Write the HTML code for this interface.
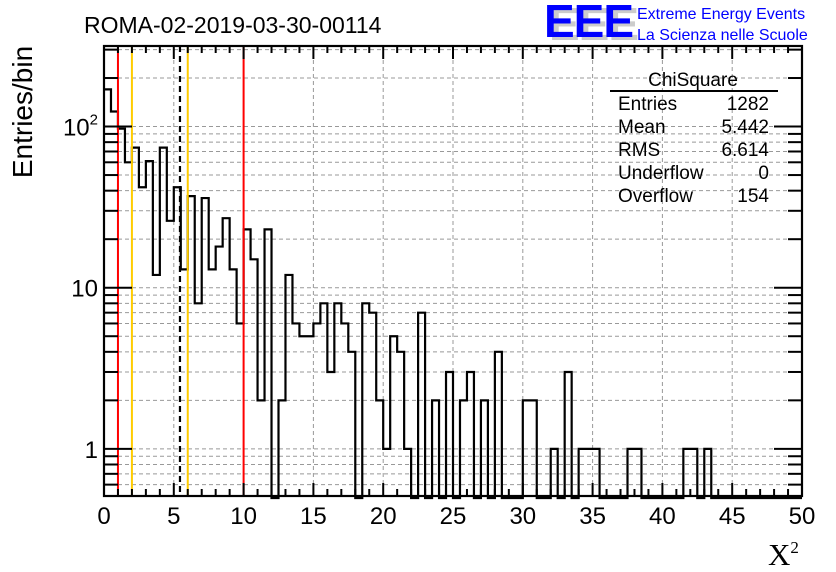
<!DOCTYPE html>
<html><head><meta charset="utf-8"><style>
body{margin:0;background:#fff;}
svg{display:block;font-family:"Liberation Sans",sans-serif;}
</style></head><body>
<svg id="c" width="836" height="572" viewBox="0 0 836 572">
<rect width="836" height="572" fill="#fff"/>
<text x="84" y="33" font-size="23">ROMA-02-2019-03-30-00114</text>
<g>
<text x="549" y="40" font-size="46" font-weight="bold" fill="#ccc" letter-spacing="-1">EEE</text>
<text x="544" y="37" font-size="46" font-weight="bold" fill="#0000ff" letter-spacing="-1">EEE</text>
<text x="637" y="19" font-size="16" fill="#0000ff">Extreme Energy Events</text>
<text x="637" y="40" font-size="16" fill="#0000ff">La Scienza nelle Scuole</text>
</g>
<g id="grid"></g>
<g id="marks"></g>
<g id="axes"></g>
<g font-size="19">
<text x="693" y="86" text-anchor="middle">ChiSquare</text>
<line x1="610" y1="91" x2="778" y2="91" stroke="#000" stroke-width="2"/>
<text x="618" y="110">Entries</text><text x="769" y="110" text-anchor="end">1282</text>
<text x="618" y="133">Mean</text><text x="769" y="133" text-anchor="end">5.442</text>
<text x="618" y="156">RMS</text><text x="769" y="156" text-anchor="end">6.614</text>
<text x="618" y="179">Underflow</text><text x="769" y="179" text-anchor="end">0</text>
<text x="618" y="202">Overflow</text><text x="769" y="202" text-anchor="end">154</text>
</g>
<text transform="translate(32,112) rotate(-90)" font-size="28" text-anchor="middle">Entries/bin</text>
<text x="768" y="565" font-size="31" font-family="Liberation Serif,serif">X<tspan font-size="17" dy="-12">2</tspan></text>
</svg>
<script>
const counts=[170,124,97,60,74,42,61,12,74,26,42,13,37,8,36,13,18,27,13,6,23,15,2,23,0,2,12,6,5,5,6,8,3,8,6,4,0,8,7,2,1,5,4,1,0,7,0,2,0,3,0,2,3,0,2,0,4,0,0,0,2,2,0,0,1,0,3,0,1,1,1,0,0,0,0,1,1,0,0,0,0,0,0,1,1,0,1,0,0,0,0,0,0,0,0,0,0,0,0,0];
const binWidth=0.5;
const xTicks=[0,5,10,15,20,25,30,35,40,45,50];
const yTickLabels=[1,10,100];
const vLinesRed=[1,10];
const vLinesOrange=[2,6];
const meanLine=[5.442];
const X0=104,X1=802,YT=46,YB=496;
const xMin=0,xMax=50,yMin=0.51,yMax=316;
const sx=v=>X0+(v-xMin)/(xMax-xMin)*(X1-X0);
const sy=v=>YB-(Math.log10(v)-Math.log10(yMin))/(Math.log10(yMax)-Math.log10(yMin))*(YB-YT);
const NS='http://www.w3.org/2000/svg';
function mk(t,a,p){const e=document.createElementNS(NS,t);for(const k in a)e.setAttribute(k,a[k]);p.appendChild(e);return e;}
const grid=document.getElementById('grid'),marks=document.getElementById('marks'),axes=document.getElementById('axes');
const yVals=[];for(let d=-1;d<=2;d++)for(let m=1;m<=9;m++){const v=m*Math.pow(10,d);if(v>=yMin&&v<=yMax)yVals.push(v);}
yVals.forEach(v=>{const l=mk('line',{x1:X0,x2:X1,y1:sy(v),y2:sy(v),stroke:'#999','stroke-dasharray':'4,3','stroke-width':1},grid);

});
xTicks.forEach(v=>{if(v>xMin&&v<xMax){const l=mk('line',{x1:sx(v),x2:sx(v),y1:YT,y2:YB,stroke:'#999','stroke-dasharray':'4,3','stroke-width':1},grid);

}});
let d='';const base=YB+2;let prev=null;
counts.forEach((c,i)=>{const y=c>0?sy(c):base;const xa=sx(i*binWidth),xb=sx((i+1)*binWidth);
if(prev===null)d+=`M${xa},${y}`;else d+=`L${xa},${y}`;d+=`L${xb},${y}`;prev=y;});
const h=mk('path',{d:d,fill:'none',stroke:'#000','stroke-width':2.2},marks);


vLinesRed.forEach(v=>{const l=mk('line',{x1:sx(v),x2:sx(v),y1:YT,y2:YB,stroke:'#ff0000','stroke-width':2},marks);

});
vLinesOrange.forEach(v=>{const l=mk('line',{x1:sx(v),x2:sx(v),y1:YT,y2:YB,stroke:'#ffcc00','stroke-width':2},marks);

});
meanLine.forEach(v=>{const l=mk('line',{x1:sx(v),x2:sx(v),y1:YT,y2:YB,stroke:'#000','stroke-width':2.2,'stroke-dasharray':'6,4'},marks);

});
const fr=mk('rect',{x:X0,y:YT,width:X1-X0,height:YB-YT,fill:'none',stroke:'#000','stroke-width':2.2},axes);


for(let v=xMin;v<=xMax;v++){const maj=v%5===0;const L=maj?13:7;const x=sx(v);
mk('line',{x1:x,x2:x,y1:YB,y2:YB-L,stroke:'#000','stroke-width':2},axes);
mk('line',{x1:x,x2:x,y1:YT,y2:YT+L,stroke:'#000','stroke-width':2},axes);}
xTicks.forEach(v=>{const t=mk('text',{x:sx(v),y:YB+28,'font-size':24,'text-anchor':'middle'},axes);t.textContent=v;

});
yVals.forEach(v=>{const maj=yTickLabels.includes(v);const L=maj?28:14;const y=sy(v);
mk('line',{x1:X0,x2:X0+L,y1:y,y2:y,stroke:'#000','stroke-width':2},axes);
mk('line',{x1:X1,x2:X1-L,y1:y,y2:y,stroke:'#000','stroke-width':2},axes);});
yTickLabels.forEach(v=>{const t=mk('text',{x:X0-6,y:sy(v)+9,'font-size':24,'text-anchor':'end'},axes);
if(v===100){t.textContent='10';const s=mk('tspan',{'font-size':15,dy:-11},t);s.textContent='2';}else t.textContent=v;

});
</script>
</body></html>
